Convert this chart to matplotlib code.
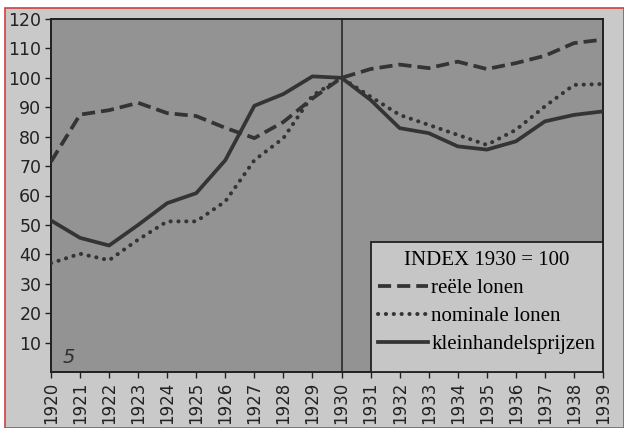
import matplotlib
matplotlib.use("Agg")
import matplotlib.pyplot as plt
from matplotlib.patches import Rectangle

years = list(range(1920, 1940))
reele_lonen = [71.5, 87.5, 89, 91.5, 88, 87, 83, 79.5, 85, 93, 100, 103, 104.5, 103.3, 105.5, 103, 105, 107.5, 111.8, 113]
nominale_lonen = [37, 40.2, 38, 45, 51.2, 51.2, 58, 72, 79.5, 94, 100, 93.6, 87.4, 84, 80.6, 77.2, 82.3, 90.3, 97.6, 97.9]
kleinhandelsprijzen = [51.5, 45.6, 43, 50, 57.4, 60.8, 72, 90.5, 94.5, 100.5, 100, 92.5, 82.9, 81.2, 76.7, 75.6, 78.4, 85.2, 87.4, 88.6]
y_ticks = list(range(10, 121, 10))
legend_title = "INDEX 1930 = 100"
labels = ["reële lonen", "nominale lonen", "kleinhandelsprijzen"]

fig = plt.figure(figsize=(6.24, 4.28), dpi=100)
fig.patch.set_facecolor("white")
bg = Rectangle((5/624, 0), 1 - 5/624, 1 - 8/428, transform=fig.transFigure,
               facecolor="#c9c9c9", edgecolor="#d04040", linewidth=1.2, zorder=-10)
fig.add_artist(bg)

ax = fig.add_axes([51/624, 1 - 372/428, (603 - 51)/624, (372 - 19)/428])
ax.set_zorder(1)
ax.set_facecolor("#939393")
ax.set_xlim(1920, 1939)
ax.set_ylim(0, 120)

lc = "#343434"
ax.plot(years, reele_lonen, color=lc, lw=2.7, dashes=[3.5, 1.6], label=labels[0], zorder=3)
ax.plot(years, nominale_lonen, color=lc, lw=2.9, linestyle=(0, (0.05, 1.9)),
        dash_capstyle="round", label=labels[1], zorder=3)
ax.plot(years, kleinhandelsprijzen, color=lc, lw=2.7, label=labels[2], zorder=3)

ax.axvline(1930, color="#202020", lw=1.1, zorder=2)

ax.set_yticks(y_ticks)
ax.set_yticklabels([str(v) for v in y_ticks], fontsize=12.5, color="#222222")
ax.set_xticks(years)
ax.set_xticklabels([str(y) for y in years], rotation=90, fontsize=12, color="#222222")
ax.tick_params(direction="out", length=4, width=1, color="#222222", pad=3)
for s in ax.spines.values():
    s.set_color("#202020")
    s.set_linewidth(1.4)

# legend box
ax.add_patch(Rectangle((1931, 0), 8, 44.3, facecolor="#c6c6c6", edgecolor="#202020",
                       linewidth=1.3, zorder=4))
leg = ax.legend(loc="center", bbox_to_anchor=(1931, 1.5, 8, 44.3), bbox_transform=ax.transData,
                frameon=False, title=legend_title,
                prop={"family": "Liberation Serif", "size": 15},
                title_fontproperties={"family": "Liberation Serif", "size": 15},
                handlelength=2.4, handletextpad=0.15, labelspacing=0.4, borderpad=0.3)
leg.set_zorder(5)

ax.text(1920.4, 3, "5", fontsize=14, style="italic", color="#303030", zorder=3)

fig.savefig("out.png", dpi=100)
